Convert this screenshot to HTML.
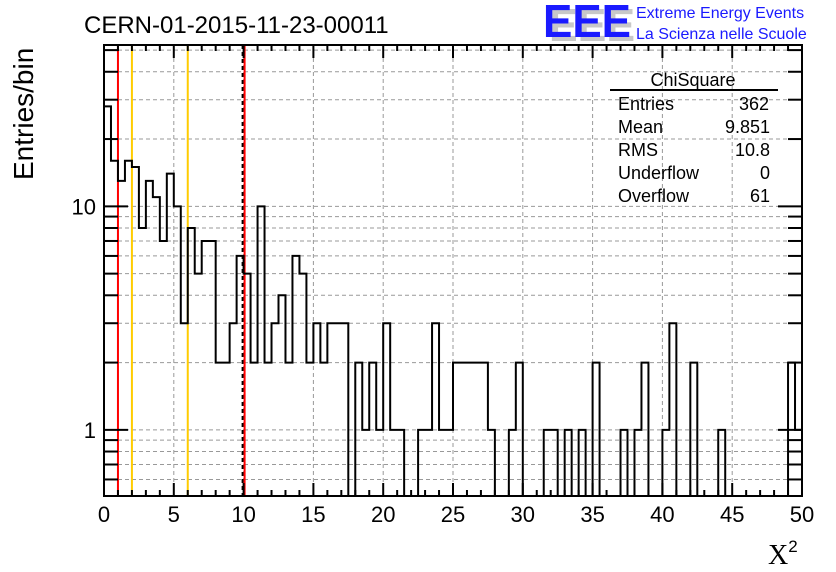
<!DOCTYPE html>
<html><head><meta charset="utf-8"><style>
html,body{margin:0;padding:0;background:#fff;}
svg{display:block;font-family:"Liberation Sans",sans-serif;}
</style></head><body>
<svg id="chart" width="836" height="572" viewBox="0 0 836 572">
<g id="grid"></g>
<g id="vlines"></g>
<g id="hist"></g>
<g id="axes"></g>
<text x="84" y="33" font-size="24" fill="#000">CERN-01-2015-11-23-00011</text>
<g>
<text x="549" y="41" font-size="46" font-weight="bold" fill="#c8c8c8" textLength="86" lengthAdjust="spacingAndGlyphs">EEE</text>
<text x="543" y="37" font-size="46" font-weight="bold" fill="#1a1aff" textLength="88" lengthAdjust="spacingAndGlyphs">EEE</text>
<text x="636" y="18" font-size="16" fill="#1a1aff">Extreme Energy Events</text>
<text x="636" y="39" font-size="16" fill="#1a1aff">La Scienza nelle Scuole</text>
</g>
<g font-size="18" fill="#000">
<text x="693" y="86" text-anchor="middle">ChiSquare</text>
<line x1="610" y1="90" x2="778" y2="90" stroke="#000" stroke-width="2"/>
<text x="618" y="110">Entries</text><text x="769" y="110" text-anchor="end">362</text>
<text x="618" y="133">Mean</text><text x="770" y="133" text-anchor="end">9.851</text>
<text x="618" y="156">RMS</text><text x="770" y="156" text-anchor="end">10.8</text>
<text x="618" y="179">Underflow</text><text x="770" y="179" text-anchor="end">0</text>
<text x="618" y="202">Overflow</text><text x="770" y="202" text-anchor="end">61</text>
</g>
<text transform="translate(33,180) rotate(-90)" font-size="28">Entries/bin</text>
<text x="768" y="564" font-family="Liberation Serif,serif" font-size="28">X<tspan font-family="Liberation Sans,sans-serif" font-size="17" dy="-12">2</tspan></text>
</svg>
<script>
const counts = [28,16,13,16,15,8,13,11,7,14,10,3,8,5,7,7,2,2,3,6,
5,2,10,2,3,4,2,6,5,2,3,2,3,3,3,0,2,1,2,1,
3,1,1,0,0,1,1,3,1,1,2,2,2,2,2,1,0,0,1,2,
0,0,0,1,1,0,1,0,1,0,2,0,0,0,1,0,1,2,0,0,
1,3,0,0,2,0,0,0,1,0,0,0,0,0,0,0,0,0,2,1];
const xTicks = [0,5,10,15,20,25,30,35,40,45,50];
const yMajor = [1,10];
const refRed = [1,10];
const refYellow = [2,6];
const NS="http://www.w3.org/2000/svg";
const X0=104,X1=802,Y0=496,Y1=45,XMIN=0,XMAX=50,YMIN=0.506,YMAX=52.7;
const sx=v=>X0+(v-XMIN)/(XMAX-XMIN)*(X1-X0);
const sy=v=>Y0-(Math.log10(v)-Math.log10(YMIN))/(Math.log10(YMAX)-Math.log10(YMIN))*(Y0-Y1);
function mk(tag,attrs,parent){const e=document.createElementNS(NS,tag);for(const k in attrs)e.setAttribute(k,attrs[k]);parent.appendChild(e);return e;}
const grid=document.getElementById('grid'),axes=document.getElementById('axes'),hist=document.getElementById('hist'),vl=document.getElementById('vlines');
const yg=[];
for(const d of [0.1,1,10]) for(let k=1;k<10;k++){const v=k*d;if(v>=YMIN&&v<=YMAX)yg.push(v);}
yg.forEach(v=>{
 const g=mk('line',{x1:X0,x2:X1,y1:sy(v),y2:sy(v),stroke:'#999','stroke-width':1,'stroke-dasharray':'4,3'},grid);
 
 
 const L=(v===1||v===10)?24:14;
 const t1=mk('line',{x1:X0,x2:X0+L,y1:sy(v),y2:sy(v),stroke:'#000','stroke-width':2},axes);
 
 
 const t2=mk('line',{x1:X1-L,x2:X1,y1:sy(v),y2:sy(v),stroke:'#000','stroke-width':2},axes);
 
 
});
xTicks.forEach(v=>{
 if(v>XMIN&&v<XMAX){
 const g=mk('line',{x1:sx(v),x2:sx(v),y1:Y0,y2:Y1,stroke:'#999','stroke-width':1,'stroke-dasharray':'4,3'},grid);
 
 }
 const t=mk('text',{x:sx(v),y:522,'font-size':22,'text-anchor':'middle'},axes);
 t.textContent=v;
 
 
});
for(let v=XMIN;v<=XMAX;v++){
 const L=(v%5===0)?13:6;
 const a=mk('line',{x1:sx(v),x2:sx(v),y1:Y0,y2:Y0-L,stroke:'#000','stroke-width':2},axes);
 
 
 const b=mk('line',{x1:sx(v),x2:sx(v),y1:Y1,y2:Y1+L,stroke:'#000','stroke-width':2},axes);
 
 
}
yMajor.forEach(v=>{
 const t=mk('text',{x:96,y:sy(v)+8,'font-size':22,'text-anchor':'end'},axes);
 t.textContent=v;
 
 
});
const fr=mk('rect',{x:X0,y:Y1,width:X1-X0,height:Y0-Y1,fill:'none',stroke:'#000','stroke-width':2},axes);


const bw=(XMAX-XMIN)/counts.length;
const yv=c=>c>0?sy(c):Y0;
let d='M'+sx(0)+','+yv(counts[0]);
counts.forEach((c,i)=>{
 const y=yv(c);
 d+=' L'+sx(i*bw)+','+y+' L'+sx((i+1)*bw)+','+y;
});
const p=mk('path',{d:d,fill:'none',stroke:'#000','stroke-width':2},hist);


const dl=mk('line',{x1:sx(10)-1,x2:sx(10)-1,y1:Y1,y2:Y0,stroke:'#000','stroke-width':2,'stroke-dasharray':'4,3'},vl);


refYellow.forEach(v=>{
 const l=mk('line',{x1:sx(v),x2:sx(v),y1:Y1,y2:Y0,stroke:'#ffcc00','stroke-width':2},vl);
 
 
});
refRed.forEach(v=>{
 const l=mk('line',{x1:sx(v)+(v===10?1:0),x2:sx(v)+(v===10?1:0),y1:Y1,y2:Y0,stroke:'#ff0000','stroke-width':2},vl);
 
 
});
</script>
</body></html>
